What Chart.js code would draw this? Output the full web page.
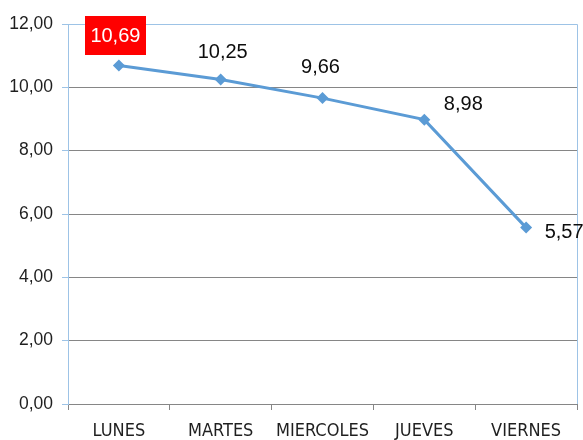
<!DOCTYPE html>
<html>
<head>
<meta charset="utf-8">
<script src="https://cdn.jsdelivr.net/npm/chart.js@4"></script>
<style>
html,body{margin:0;padding:0;background:#fff;}
#wrap{width:583px;height:440px;position:relative;}
</style>
</head>
<body>
<div id="wrap"><canvas id="c" width="583" height="440"></canvas></div>
<script>
const categories = ['LUNES', 'MARTES', 'MIERCOLES', 'JUEVES', 'VIERNES'];
const values = [10.69, 10.25, 9.66, 8.98, 5.57];
const yTicks = [0, 2, 4, 6, 8, 10, 12];

const fmt = v => v.toFixed(2).replace('.', ',');

const frame = {
  id: 'frame',
  beforeDatasetsDraw(chart) {
    const {ctx, chartArea: a} = chart;
    ctx.save();
    ctx.strokeStyle = '#9DC3E6';
    ctx.lineWidth = 1;
    ctx.beginPath();
    ctx.moveTo(a.left, a.top + 0.5);
    ctx.lineTo(a.right + 0.5, a.top + 0.5);
    ctx.lineTo(a.right + 0.5, a.bottom);
    ctx.stroke();
    ctx.restore();
  }
};

const labels = {
  id: 'valueLabels',
  afterDatasetsDraw(chart, args, opts) {
    const {ctx} = chart;
    const meta = chart.getDatasetMeta(0);
    const data = chart.data.datasets[0].data;
    const maxV = Math.max(...data);
    ctx.save();
    ctx.font = '20px "Liberation Sans", Arial, sans-serif';
    ctx.textAlign = 'center';
    ctx.textBaseline = 'middle';
    meta.data.forEach((pt, i) => {
      const txt = fmt(data[i]);
      const off = opts.offsets[i];
      const x = pt.x + off[0], y = pt.y + off[1];
      if (data[i] === maxV) {
        const w = 61;
        const h = 39;
        ctx.fillStyle = '#FF0000';
        ctx.fillRect(Math.round(x - w / 2), Math.round(y - h / 2), w, h);
        ctx.fillStyle = '#FFFFFF';
      } else {
        ctx.fillStyle = '#0d0d0d';
      }
      ctx.fillText(txt, x, y + 1);
    });
    ctx.restore();
  }
};

new Chart(document.getElementById('c'), {
  type: 'line',
  data: {
    labels: categories,
    datasets: [{
      data: values,
      borderColor: '#5B9BD5',
      backgroundColor: '#5B9BD5',
      borderWidth: 3,
      pointStyle: 'rectRot',
      pointRadius: 6,
      pointHoverRadius: 6,
      pointBackgroundColor: '#5B9BD5',
      pointBorderColor: '#5B9BD5',
      pointBorderWidth: 0,
      tension: 0,
      fill: false
    }]
  },
  options: {
    responsive: false,
    animation: false,
    events: [],
    layout: { padding: { left: 0, right: 6, top: 24, bottom: 0 } },
    plugins: {
      legend: { display: false },
      tooltip: { enabled: false },
      valueLabels: { offsets: [[-3.5, -29.5], [2, -28], [-2, -32], [39, -16], [38, 4]] }
    },
    scales: {
      x: {
        offset: true,
        afterFit(s) { s.height = 36; },
        grid: {
          offset: true,
          drawOnChartArea: false,
          drawTicks: true,
          tickLength: 6,
          tickColor: '#868686'
        },
        border: { display: true, color: '#868686', width: 1 },
        ticks: {
          color: '#1f1f1f',
          padding: 11,
          font: { family: '"Liberation Sans Narrow", "DejaVu Sans Condensed", "Liberation Sans", sans-serif', size: 18 }
        }
      },
      y: {
        min: 0,
        max: 12,
        afterFit(s) { s.width = 68; },
        afterBuildTicks(s) { s.ticks = yTicks.map(v => ({ value: v })); },
        grid: {
          color: '#868686',
          lineWidth: 1,
          drawTicks: true,
          tickLength: 6,
          tickColor: '#9DC3E6'
        },
        border: { display: true, color: '#9DC3E6', width: 1 },
        ticks: {
          color: '#1f1f1f',
          padding: 9,
          font: { family: '"Liberation Sans", Arial, sans-serif', size: 17.5 },
          callback: v => fmt(v)
        }
      }
    }
  },
  plugins: [frame, labels]
});
</script>
</body>
</html>
